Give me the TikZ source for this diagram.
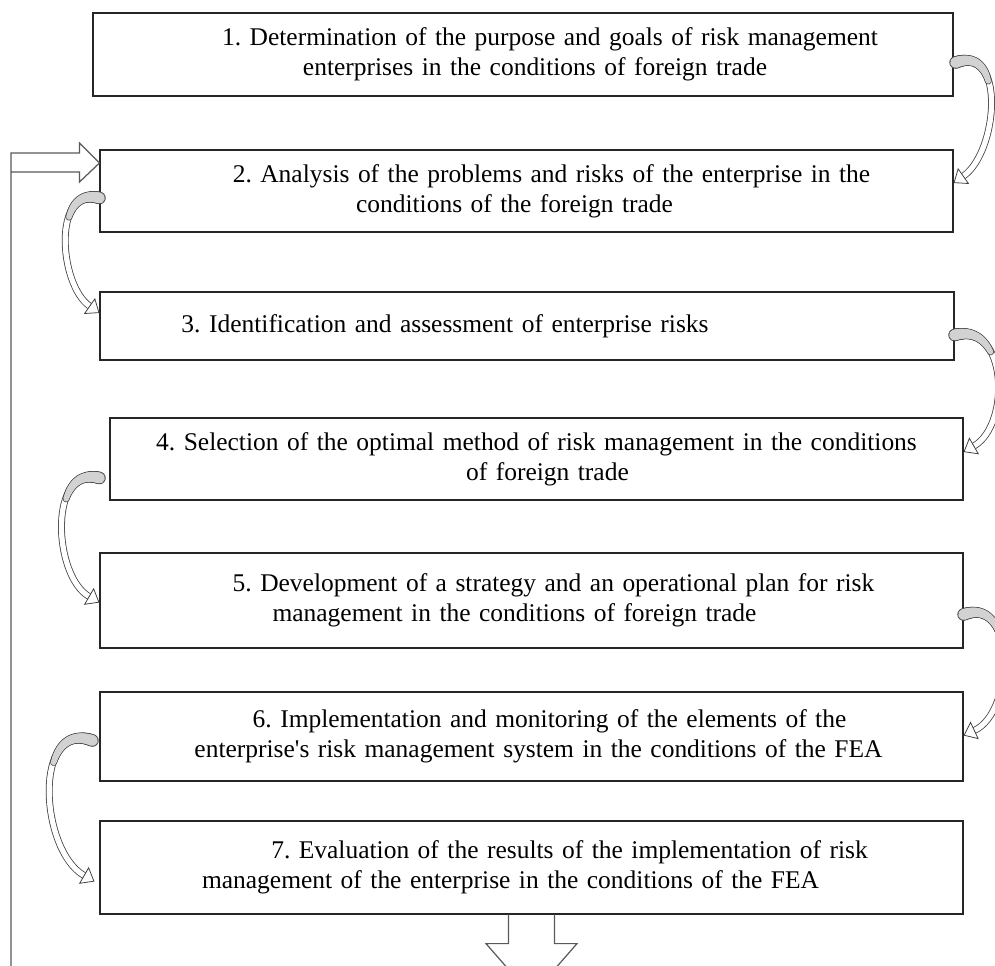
\documentclass[tikz,border=0pt]{standalone}
\usepackage{fontspec}
\setmainfont{Liberation Serif}
\usetikzlibrary{arrows.meta,calc,decorations.markings}

\newcommand{\taperrad}{%
  \pgfmathsetmacro{\tprr}{max(1.5, 3.1-1.6*\pgfkeysvalueof{/pgf/decoration/mark info/distance from start}/(0.28*\pgfdecoratedpathlength))}}

\tikzset{
  stepbox/.style={draw=black!85, line width=0.7pt, inner xsep=0pt, inner ysep=0pt,
    align=center, font=\fontsize{14.5}{17}\selectfont},
  bendarrow/.style={draw=black!75, line width=0.45pt, double=white, double distance=3pt,
    -{Triangle[open, length=7pt, width=11pt]},
    postaction={decorate, decoration={markings,
      mark=between positions 0 and 0.28 step 0.4pt with {\taperrad\fill[black!70] (0,0) circle ({\tprr pt+0.45pt});}}},
    postaction={decorate, decoration={markings,
      mark=between positions 0 and 0.28 step 0.4pt with {\taperrad\fill[gray!35] (0,0) circle ({\tprr pt});}}}},
  blockarrow/.style={draw=black!65, line width=0.7pt}
}

\begin{document}
\frenchspacing
\begin{tikzpicture}[x=0.02cm, y=0.02cm]
  \useasboundingbox (0,0) rectangle (995,-965);

  % Stages of the risk management process
  \node[stepbox, text width=17.2cm, minimum height=1.66cm] (b1) at (523,-54.5)
    {\hspace*{1.08cm}1. Determination of the purpose and goals of risk management\\
     \hspace*{0.48cm}enterprises in the conditions of foreign trade};
  \node[stepbox, text width=17.06cm, minimum height=1.64cm] (b2) at (526.5,-191)
    {\hspace*{1.0cm}2. Analysis of the problems and risks of the enterprise in the\\
     conditions of the foreign trade\hspace*{0.48cm}\mbox{}};
  \node[stepbox, text width=17.08cm, minimum height=1.36cm] (b3) at (527,-326)
    {3. Identification and assessment of enterprise risks\hspace*{3.28cm}\mbox{}};
  \node[stepbox, text width=17.06cm, minimum height=1.64cm] (b4) at (536.5,-459)
    {4. Selection of the optimal method of risk management in the conditions\\
     \hspace*{0.44cm}of foreign trade};
  \node[stepbox, text width=17.26cm, minimum height=1.9cm] (b5) at (531.5,-600.5)
    {\hspace*{0.88cm}5. Development of a strategy and an operational plan for risk\\
     management in the conditions of foreign trade\hspace*{0.68cm}\mbox{}};
  \node[stepbox, text width=17.26cm, minimum height=1.78cm] (b6) at (531.5,-736.5)
    {\hspace*{0.72cm}6. Implementation and monitoring of the elements of the\\
     \hspace*{0.28cm}enterprise\textquotesingle s risk management system in the conditions of the FEA};
  \node[stepbox, text width=17.26cm, minimum height=1.86cm] (b7) at (531.5,-867.5)
    {\hspace*{1.52cm}7. Evaluation of the results of the implementation of risk\\
     management of the enterprise in the conditions of the FEA\hspace*{0.84cm}\mbox{}};

  % Curved arrows from stage to stage
  \draw[bendarrow] ($(b1.east)+(2,-8)$) to[out=20, in=35, looseness=1.15] ($(b2.east)+(0,8)$);
  \draw[bendarrow] ($(b2.west)+(0,-7)$) to[out=165, in=145, looseness=1.1] ($(b3.west)+(0,13)$);
  \draw[bendarrow] ($(b3.east)+(0,-9)$) to[out=15, in=30, looseness=1.2] ($(b4.east)+(0,7)$);
  \draw[bendarrow] ($(b4.west)+(-10,-19)$) to[out=165, in=150, looseness=1.1] ($(b5.west)+(0,-2)$);
  \draw[bendarrow] ($(b5.east)+(0,-14)$) to[out=20, in=25, looseness=1.2] ($(b6.east)+(0,1)$);
  \draw[bendarrow] ($(b6.west)+(-7,-4)$) to[out=160, in=150, looseness=1.15] ($(b7.west)+(-5,-14)$);

  % Feedback line back to stage 2
  \coordinate (fb) at ($(b2.west)+(0,28)$);
  \coordinate (loopend) at (11,-975);
  \draw[blockarrow] (loopend) |- ($(fb)+(-20,10)$) -- ++(0,10) -- (fb)
    -- ($(fb)+(-20,-19)$) -- ++(0,10) -- (loopend |- {$(fb)+(0,-9)$});

  % Output arrow below stage 7
  \draw[blockarrow] ($(b7.south)+(-23,0)$) -- ++(0,-29) -- ++(-22.5,0)
    -- ($(b7.south)+(0,-81)$) -- ($(b7.south)+(45.5,-29)$) -- ++(-22.5,0) -- ++(0,29);

\end{tikzpicture}
\end{document}
